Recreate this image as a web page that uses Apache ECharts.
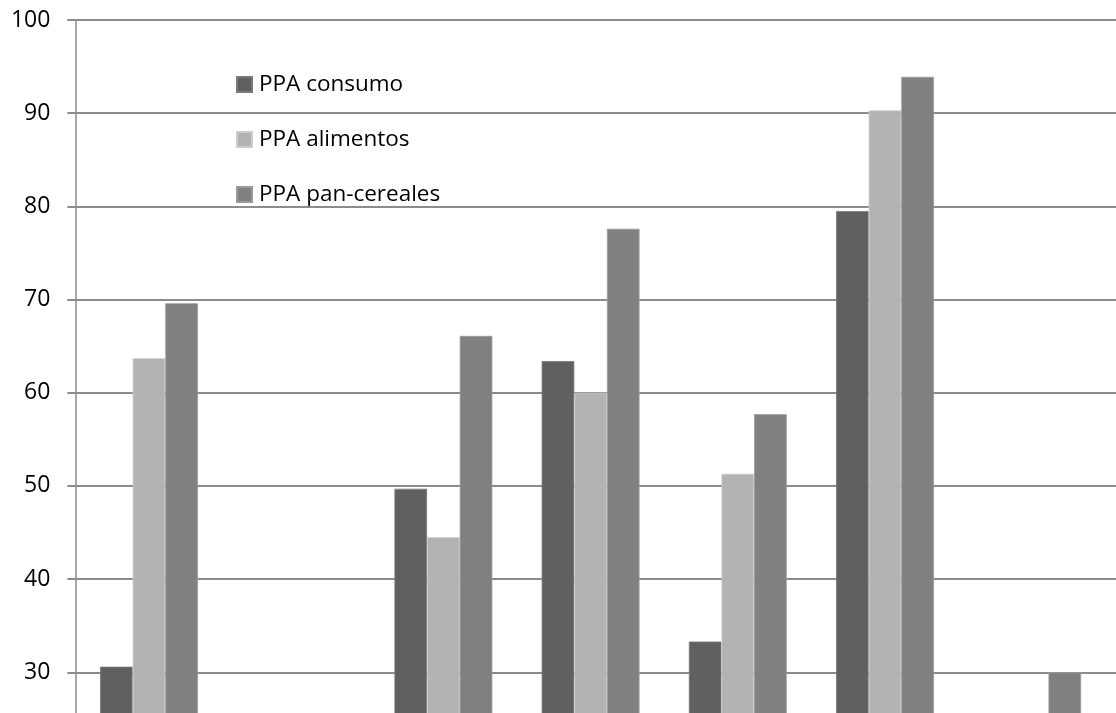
<!DOCTYPE html>
<html>
<head>
<meta charset="utf-8">
<script src="https://cdn.jsdelivr.net/npm/echarts@6/dist/echarts.min.js"></script>
<style>
html,body{margin:0;padding:0;background:#fff;}
#chart{width:1116px;height:713px;}
</style>
</head>
<body>
<div id="chart"></div>
<script>
// Category labels are cut off in the reference (below the visible area)
const categories = ['', '', '', '', '', '', '', ''];
const seriesNames = ['PPA consumo', 'PPA alimentos', 'PPA pan-cereales'];
const ppaConsumo = [30.6, null, 49.7, 63.4, 33.3, 79.5, null, null];
const ppaAlimentos = [63.7, null, 44.5, 60.0, 51.3, 90.3, null, null];
const ppaPanCereales = [69.6, null, 66.1, 77.6, 57.7, 93.9, 30.0, null];
const yTicks = { min: 20, max: 100, interval: 10 };

const colors = ['#606060', '#b3b3b3', '#808080'];
const borders = ['#7a7a7a', '#cccccc', '#9a9a9a'];
const values = [ppaConsumo, ppaAlimentos, ppaPanCereales];

const chart = echarts.init(document.getElementById('chart'));
chart.setOption({
  animation: false,
  backgroundColor: '#ffffff',
  grid: { left: 75.4, top: 20, width: 1177.6, height: 745.5, containLabel: false, outerBoundsMode: 'none' },
  legend: {
    orient: 'vertical',
    left: 236,
    top: 73,
    padding: 0,
    icon: 'rect',
    itemWidth: 15,
    itemHeight: 15,
    itemGap: 32,
    textStyle: { fontFamily: 'Open Sans', fontSize: 22.5, color: '#000', lineHeight: 20, padding: [0,0,0,2] },
    data: seriesNames
  },
  xAxis: {
    type: 'category',
    data: categories,
    axisLine: { show: true, lineStyle: { color: '#8c8c8c', width: 1.5 } },
    axisTick: { show: false },
    axisLabel: { show: false }
  },
  yAxis: {
    type: 'value',
    min: yTicks.min,
    max: yTicks.max,
    interval: yTicks.interval,
    axisLine: { show: true, lineStyle: { color: '#8c8c8c', width: 1.5 } },
    axisTick: { show: true, length: 8, lineStyle: { color: '#8c8c8c', width: 2 } },
    axisLabel: { fontFamily: 'Open Sans', fontSize: 23, color: '#000', margin: 25 },
    splitLine: { show: true, lineStyle: { color: '#8c8c8c', width: 2 } }
  },
  series: seriesNames.map((name, i) => ({
    name: name,
    type: 'bar',
    data: values[i],
    barGap: '0%',
    barCategoryGap: '33.5%',
    itemStyle: { color: colors[i], borderColor: borders[i], borderWidth: 0.8 }
  }))
});
</script>
</body>
</html>
